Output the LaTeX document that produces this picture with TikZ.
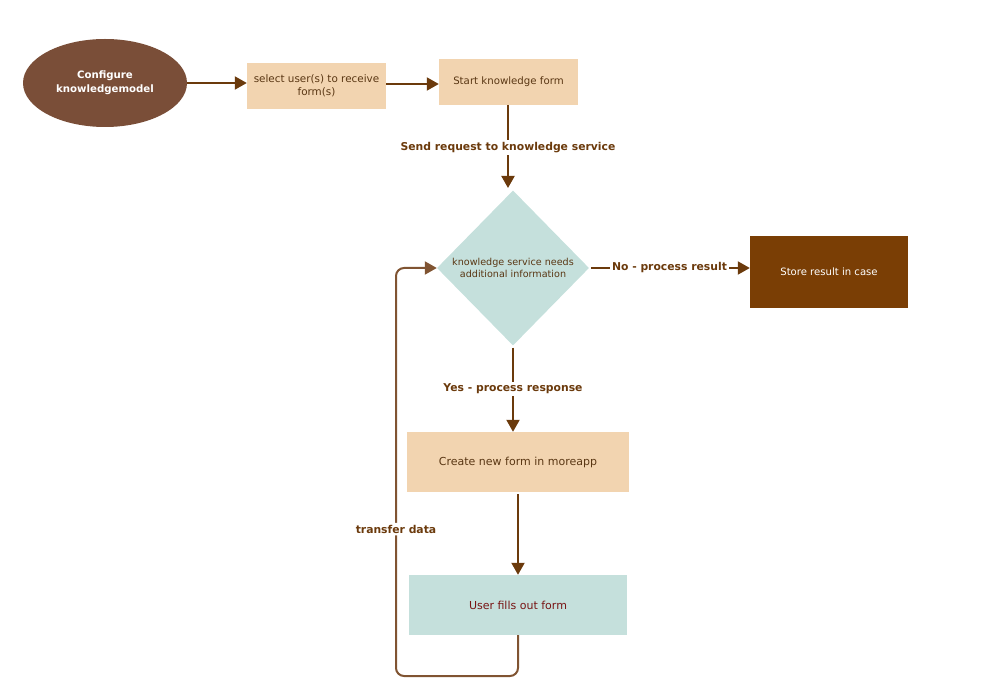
\documentclass[tikz,border=0pt]{standalone}
\usepackage{fontspec}
\setmainfont{DejaVu Sans}
\usetikzlibrary{arrows.meta,shapes.geometric}
\definecolor{ellbrown}{RGB}{122,78,56}
\definecolor{peach}{RGB}{242,212,176}
\definecolor{mint}{RGB}{197,224,220}
\definecolor{darkbrown}{RGB}{122,62,5}
\definecolor{linec}{RGB}{107,58,12}
\definecolor{loopc}{RGB}{128,84,50}
\definecolor{txtc}{RGB}{90,55,20}
\definecolor{redtxt}{RGB}{120,20,20}
\tikzset{
  box/.style={rectangle, draw=none, inner sep=0pt, align=center, font=\fontsize{10.2}{12}\selectfont, text=txtc},
  conn/.style={draw=linec, line width=2pt, -{Triangle[length=12pt,width=13pt]}},
  lbl/.style={fill=white, inner sep=2pt, text=linec, font=\bfseries\fontsize{10.8}{13}\selectfont},
}
\begin{document}
\begin{tikzpicture}[x=1pt,y=-1pt]
\useasboundingbox (0,0) rectangle (1000,700);
% nodes
\node[ellipse, fill=ellbrown, minimum width=164pt, minimum height=88pt, inner sep=0pt, align=center, text=white, font=\bfseries\fontsize{10.2}{14}\selectfont] (cfg) at (105,83) {Configure\\knowledgemodel};
\node[box, fill=peach, minimum width=139pt, minimum height=46pt, font=\fontsize{10.4}{13}\selectfont] (sel) at (316.5,86) {select user(s) to receive\\form(s)};
\node[box, fill=peach, minimum width=139pt, minimum height=46pt] (start) at (508.5,82) {Start knowledge form};
\node[diamond, fill=mint, minimum width=152pt, minimum height=155pt, inner sep=0pt, align=center, text=txtc, font=\fontsize{9.6}{12}\selectfont, aspect=0.98] (dec) at (513,268) {knowledge service needs\\additional information};
\node[box, fill=darkbrown, text=white, minimum width=158pt, minimum height=72pt, font=\fontsize{10.1}{12}\selectfont] (store) at (829,272) {Store result in case};
\node[box, fill=peach, minimum width=222pt, minimum height=60pt, font=\fontsize{11}{13}\selectfont] (create) at (518,462) {Create new form in moreapp};
\node[box, fill=mint, text=redtxt, minimum width=218pt, minimum height=60pt, font=\fontsize{11}{13}\selectfont] (user) at (518,605) {User fills out form};
\coordinate (c1) at (518,676);
\coordinate (c2) at (396,676);
\coordinate (c3) at (396,268);
% connectors
\draw[conn] (cfg.east) -- (cfg.east -| sel.west);
\draw[conn] (sel.east |- start.west) ++(0,2) -- (start.west |- 84,84);
\draw[conn, shorten >=2pt] (508,105) -- node[lbl, pos=0.5] {Send request to knowledge service} (508,190);
\draw[conn, shorten <=2pt] (dec.east) -- node[lbl] {No - process result} (store.west |- dec.east);
\draw[conn, shorten <=2pt] (dec.south) -- node[lbl, pos=0.5] {Yes - process response} (create.north -| dec.south);
\draw[conn] (create.south -| user.north) ++(0,2) -- (user.north);
\draw[conn, draw=loopc, rounded corners=8pt] (user.south) -- (c1) -- (c2) -- node[lbl, pos=0.36] {transfer data} (c3) -- (dec.west);
\end{tikzpicture}
\end{document}
